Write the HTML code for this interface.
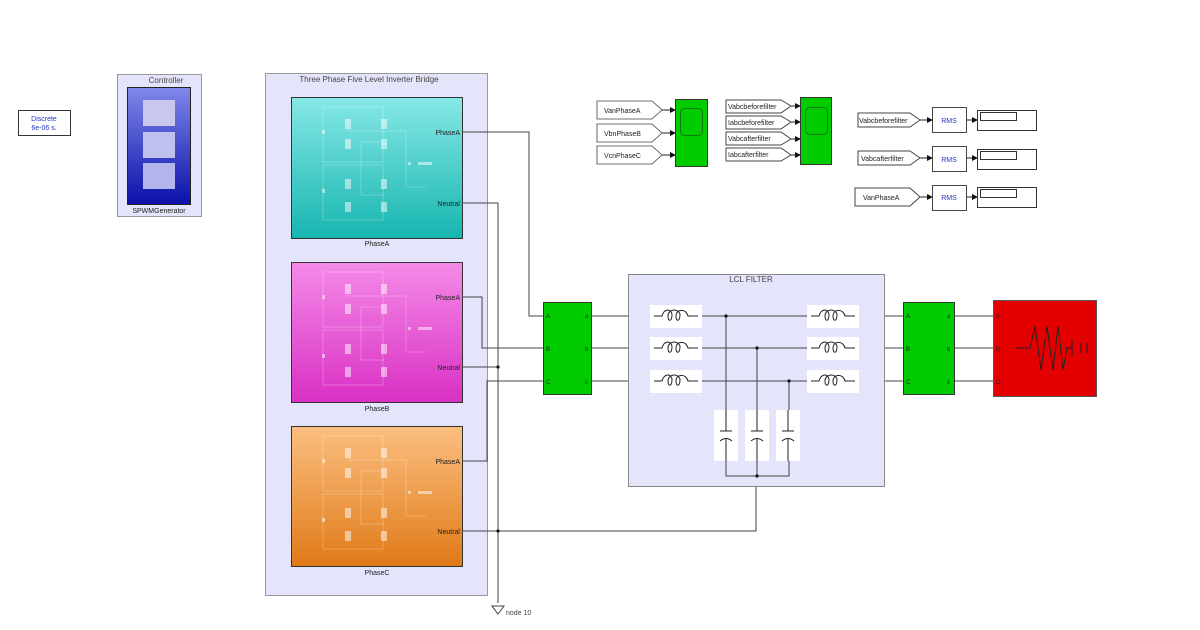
<!DOCTYPE html>
<html><head><meta charset="utf-8"><style>
html,body{margin:0;padding:0;background:#fff;width:1200px;height:630px;overflow:hidden}
svg{display:block}
text{font-family:"Liberation Sans",sans-serif}
</style></head><body>
<svg width="1200" height="630" viewBox="0 0 1200 630" xmlns="http://www.w3.org/2000/svg">
<defs>
<linearGradient id="gA" x1="0" y1="0" x2="0" y2="1"><stop offset="0" stop-color="#86e8e6"/><stop offset="1" stop-color="#17b5b0"/></linearGradient>
<linearGradient id="gB" x1="0" y1="0" x2="0" y2="1"><stop offset="0" stop-color="#f48ae8"/><stop offset="1" stop-color="#d930c3"/></linearGradient>
<linearGradient id="gC" x1="0" y1="0" x2="0" y2="1"><stop offset="0" stop-color="#fbbf80"/><stop offset="1" stop-color="#e07a18"/></linearGradient>
<linearGradient id="gD" x1="0" y1="0" x2="0" y2="1"><stop offset="0" stop-color="#8088ea"/><stop offset="1" stop-color="#0a10a8"/></linearGradient>
<marker id="ar" markerWidth="6" markerHeight="6" refX="5" refY="3" orient="auto" markerUnits="userSpaceOnUse"><path d="M0,0 L6,3 L0,6 z" fill="#111"/></marker>
<g id="inner" stroke="rgba(255,255,255,0.3)" fill="none" stroke-width="0.8">
<rect x="32" y="10" width="60" height="55"/><rect x="32" y="68" width="60" height="55"/>
<polyline points="56,34 115,34"/><polyline points="93,45 70,45 70,98 93,98"/><polyline points="115,34 115,90 135,90"/>
<g fill="rgba(255,255,255,0.5)" stroke="none">
<rect x="54" y="22" width="6" height="10"/><rect x="54" y="42" width="6" height="10"/><rect x="54" y="82" width="6" height="10"/><rect x="54" y="105" width="6" height="10"/>
<rect x="90" y="22" width="6" height="10"/><rect x="90" y="42" width="6" height="10"/><rect x="90" y="82" width="6" height="10"/><rect x="90" y="105" width="6" height="10"/>
<rect x="31" y="33" width="3" height="4"/><rect x="31" y="92" width="3" height="4"/>
<rect x="117" y="65" width="3" height="3"/><rect x="127" y="65" width="14" height="3"/>
</g></g>
</defs>

<rect x="18.5" y="110.5" width="52" height="25" fill="#fff" stroke="#333"/>
<text x="44" y="121" font-size="7" fill="#2233bb" text-anchor="middle">Discrete</text>
<text x="44" y="130" font-size="7" fill="#2233bb" text-anchor="middle">6e-06 s.</text>

<rect x="117.5" y="74.5" width="84" height="142" fill="#e4e4fa" stroke="#999"/>
<text x="166" y="83" font-size="8" fill="#444" text-anchor="middle">Controller</text>
<rect x="127.5" y="87.5" width="63" height="117" fill="url(#gD)" stroke="#222"/>
<rect x="143" y="100" width="32" height="26" fill="#c8c8ee"/>
<rect x="143" y="132" width="32" height="26" fill="#c0c0ee"/>
<rect x="143" y="163" width="32" height="26" fill="#b4b4ec"/>
<text x="159" y="213" font-size="7" fill="#222" text-anchor="middle">SPWMGenerator</text>

<rect x="265.5" y="73.5" width="222" height="522" fill="#e4e4fa" stroke="#999"/>
<text x="369" y="82" font-size="8" fill="#444" text-anchor="middle">Three Phase Five Level Inverter Bridge</text>

<rect x="291.5" y="97.5" width="171" height="141" fill="url(#gA)" stroke="#333"/>
<use href="#inner" x="291" y="97"/>
<text x="377" y="246" font-size="7" fill="#222" text-anchor="middle">PhaseA</text>
<rect x="291.5" y="262.5" width="171" height="140" fill="url(#gB)" stroke="#333"/>
<use href="#inner" x="291" y="262"/>
<text x="377" y="411" font-size="7" fill="#222" text-anchor="middle">PhaseB</text>
<rect x="291.5" y="426.5" width="171" height="140" fill="url(#gC)" stroke="#333"/>
<use href="#inner" x="291" y="426"/>
<text x="377" y="575" font-size="7" fill="#222" text-anchor="middle">PhaseC</text>

<g font-size="7" fill="#222" text-anchor="end">
<text x="460" y="135">PhaseA</text><text x="460" y="206">Neutral</text>
<text x="460" y="300">PhaseA</text><text x="460" y="370">Neutral</text>
<text x="460" y="464">PhaseA</text><text x="460" y="534">Neutral</text>
</g>

<g fill="none" stroke="#444" stroke-width="1">
<polyline points="462,132 529,132 529,316 543,316"/>
<polyline points="462,297 482,297 482,348 543,348"/>
<polyline points="462,461 487,461 487,381 543,381"/>
<polyline points="462,203 498,203 498,603"/>
<line x1="462" y1="367" x2="498" y2="367"/>
<polyline points="462,531 756,531 756,476"/>
<line x1="591" y1="316" x2="650" y2="316"/><line x1="591" y1="348" x2="650" y2="348"/><line x1="591" y1="381" x2="650" y2="381"/>
<line x1="858" y1="316" x2="903" y2="316"/><line x1="858" y1="348" x2="903" y2="348"/><line x1="858" y1="381" x2="903" y2="381"/>
<line x1="954" y1="316" x2="993" y2="316"/><line x1="954" y1="348" x2="993" y2="348"/><line x1="954" y1="381" x2="993" y2="381"/>
</g>
<g fill="#111"><circle cx="498" cy="367" r="1.6"/><circle cx="498" cy="531" r="1.6"/></g>
<polygon points="492,606 504,606 498,614" fill="#fff" stroke="#444"/>
<text x="506" y="615" font-size="7" fill="#444">node 10</text>

<rect x="543.5" y="302.5" width="48" height="92" fill="#00cc00" stroke="#333"/>
<g font-size="6" fill="#222"><text x="546" y="318">A</text><text x="546" y="351">B</text><text x="546" y="384">C</text>
<text x="585" y="318">a</text><text x="585" y="351">b</text><text x="585" y="384">c</text></g>

<rect x="628.5" y="274.5" width="256" height="212" fill="#e4e4fa" stroke="#888"/>
<text x="751" y="282" font-size="8" fill="#444" text-anchor="middle">LCL FILTER</text>
<g fill="none" stroke="#444">
<line x1="702" y1="316" x2="807" y2="316"/><line x1="702" y1="348" x2="807" y2="348"/><line x1="702" y1="381" x2="807" y2="381"/>
<polyline points="726,316 726,410"/><polyline points="757,348 757,410"/><polyline points="789,381 789,410"/>
<polyline points="726,461 726,476 789,476 789,461"/><line x1="757" y1="461" x2="757" y2="476"/>
</g>
<g fill="#111"><circle cx="726" cy="316" r="1.6"/><circle cx="757" cy="348" r="1.6"/><circle cx="789" cy="381" r="1.6"/><circle cx="757" cy="476" r="1.6"/></g>
<g id="ind">
<rect x="650" y="305" width="52" height="23" fill="#fff"/>
<path d="M654 316 H662 C664 309 670 308 672 314 C672 322 668 322 668 316 C668 309 678 308 680 314 C680 322 676 322 676 316 C676 309 686 308 688 316 H698" fill="none" stroke="#222"/>
</g>
<use href="#ind" y="32"/><use href="#ind" y="65"/>
<use href="#ind" x="157"/><use href="#ind" x="157" y="32"/><use href="#ind" x="157" y="65"/>
<g id="cap">
<rect x="714" y="410" width="24" height="51" fill="#fff"/>
<line x1="726" y1="410" x2="726" y2="431" stroke="#222"/><line x1="720" y1="431" x2="732" y2="431" stroke="#222"/>
<path d="M720 441 Q726 436 732 441" fill="none" stroke="#222"/><line x1="726" y1="439" x2="726" y2="461" stroke="#222"/>
</g>
<use href="#cap" x="31"/><use href="#cap" x="62"/>

<rect x="903.5" y="302.5" width="51" height="92" fill="#00cc00" stroke="#333"/>
<g font-size="6" fill="#222"><text x="906" y="318">A</text><text x="906" y="351">B</text><text x="906" y="384">C</text>
<text x="947" y="318">a</text><text x="947" y="351">b</text><text x="947" y="384">c</text></g>

<rect x="993.5" y="300.5" width="103" height="96" fill="#e20000" stroke="#555"/>
<polyline points="1016,348 1030,348 1035,326 1041,370 1047,326 1053,370 1058,326 1063,370 1067,348 1072,348" fill="none" stroke="#222"/>
<line x1="1072" y1="340" x2="1072" y2="356" stroke="#222"/><line x1="1081" y1="343" x2="1081" y2="353" stroke="#222"/><line x1="1087" y1="343" x2="1087" y2="353" stroke="#222"/>
<g font-size="6" fill="#222"><text x="996" y="318">A</text><text x="996" y="351">B</text><text x="996" y="384">C</text></g>

<g font-size="7" fill="#222" stroke-width="0.8">
<polygon points="597,101 652,101 662,110 652,119 597,119" fill="#fff" stroke="#444"/><text x="604" y="113">VanPhaseA</text>
<polygon points="597,124 652,124 662,133 652,142 597,142" fill="#fff" stroke="#444"/><text x="604" y="136">VbnPhaseB</text>
<polygon points="597,146 652,146 662,155 652,164 597,164" fill="#fff" stroke="#444"/><text x="604" y="158">VcnPhaseC</text>
</g>
<g stroke="#222" marker-end="url(#ar)"><line x1="662" y1="110" x2="675" y2="110"/><line x1="662" y1="133" x2="675" y2="133"/><line x1="662" y1="155" x2="675" y2="155"/>
<line x1="791" y1="106" x2="800" y2="106"/><line x1="791" y1="122" x2="800" y2="122"/><line x1="791" y1="139" x2="800" y2="139"/><line x1="791" y1="155" x2="800" y2="155"/>
<line x1="920" y1="120" x2="932" y2="120"/><line x1="920" y1="158" x2="932" y2="158"/><line x1="920" y1="197" x2="932" y2="197"/>
<line x1="966" y1="120" x2="977" y2="120"/><line x1="966" y1="158" x2="977" y2="158"/><line x1="966" y1="197" x2="977" y2="197"/></g>
<rect x="675.5" y="99.5" width="32" height="67" fill="#00cc00" stroke="#333"/>
<rect x="680.5" y="108.5" width="22" height="27" rx="4" fill="none" stroke="#117711"/>

<g font-size="7" fill="#222">
<polygon points="726,100 781,100 791,106 781,113 726,113" fill="#fff" stroke="#444"/><text x="728" y="109">Vabcbeforefilter</text>
<polygon points="726,116 781,116 791,122 781,129 726,129" fill="#fff" stroke="#444"/><text x="728" y="125">Iabcbeforefilter</text>
<polygon points="726,132 781,132 791,139 781,145 726,145" fill="#fff" stroke="#444"/><text x="728" y="141">Vabcafterfilter</text>
<polygon points="726,148 781,148 791,155 781,161 726,161" fill="#fff" stroke="#444"/><text x="728" y="157">Iabcafterfilter</text>
</g>
<rect x="800.5" y="97.5" width="31" height="67" fill="#00cc00" stroke="#333"/>
<rect x="805.5" y="107.5" width="22" height="27" rx="4" fill="none" stroke="#117711"/>

<g font-size="7" fill="#222">
<polygon points="858,113 910,113 920,120 910,127 858,127" fill="#fff" stroke="#444"/><text x="859" y="123">Vabcbeforefilter</text>
<polygon points="858,151 910,151 920,158 910,165 858,165" fill="#fff" stroke="#444"/><text x="861" y="161">Vabcafterfilter</text>
<polygon points="855,188 910,188 920,197 910,206 855,206" fill="#fff" stroke="#444"/><text x="863" y="200">VanPhaseA</text>
</g>
<g font-size="7" fill="#2233bb" text-anchor="middle">
<rect x="932.5" y="107.5" width="34" height="25" fill="#fff" stroke="#444"/><text x="949" y="123">RMS</text>
<rect x="932.5" y="146.5" width="34" height="25" fill="#fff" stroke="#444"/><text x="949" y="162">RMS</text>
<rect x="932.5" y="185.5" width="34" height="25" fill="#fff" stroke="#444"/><text x="949" y="200">RMS</text>
</g>
<g fill="#fff" stroke="#333">
<rect x="977.5" y="110.5" width="59" height="20"/><rect x="980.5" y="112.5" width="36" height="8"/>
<rect x="977.5" y="149.5" width="59" height="20"/><rect x="980.5" y="151.5" width="36" height="8"/>
<rect x="977.5" y="187.5" width="59" height="20"/><rect x="980.5" y="189.5" width="36" height="8"/>
</g>
</svg>
</body></html>
